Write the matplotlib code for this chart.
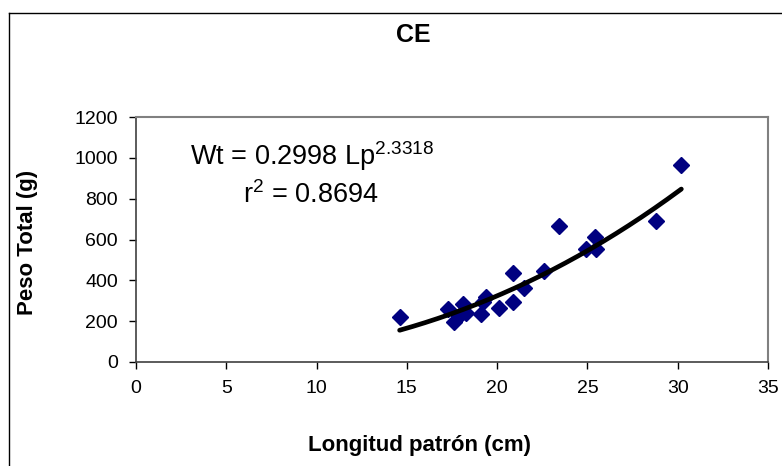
import matplotlib
matplotlib.use("Agg")
import matplotlib.pyplot as plt
import numpy as np
from matplotlib.lines import Line2D

plt.rcParams['font.family'] = ['Liberation Sans', 'DejaVu Sans']
plt.rcParams['mathtext.fontset'] = 'custom'
plt.rcParams['mathtext.rm'] = 'Liberation Sans'
plt.rcParams['mathtext.it'] = 'Liberation Sans'

# Data
longitud = [14.6, 17.3, 17.6, 18.1, 18.3, 17.9, 19.1, 19.4, 19.2, 20.1,
            20.9, 20.9, 21.5, 22.6, 23.4, 24.9, 25.4, 25.5, 28.8, 30.2]
peso = [222, 258, 198, 283, 238, 225, 235, 320, 292, 263,
        295, 434, 364, 446, 665, 553, 612, 552, 690, 964]
coef_a = 0.2998
coef_b = 2.3318
r2 = 0.8694
x_ticks = [0, 5, 10, 15, 20, 25, 30, 35]
y_ticks = [0, 200, 400, 600, 800, 1000, 1200]

W, H = 782, 466
fig = plt.figure(figsize=(W / 100, H / 100), dpi=100)
ax = fig.add_axes([136 / W, 1 - 362 / H, (768 - 136) / W, (362 - 117) / H])

ax.plot(longitud, peso, linestyle='none', marker='D', markersize=7.8,
        color='#000080', markeredgecolor='#000080', zorder=3)
xf = np.linspace(min(longitud), max(longitud), 200)
ax.plot(xf, coef_a * xf ** coef_b, color='black', linewidth=3.4,
        solid_capstyle='round', zorder=4)

ax.set_xlim(0, 35)
ax.set_ylim(0, 1200)
ax.set_xticks(x_ticks)
ax.set_yticks(y_ticks)
ax.tick_params(axis='both', direction='out', length=5, width=1,
               labelsize=14, colors='black', pad=8)
for s in ['top', 'right']:
    ax.spines[s].set_color('#808080')
    ax.spines[s].set_linewidth(1.5)
for s in ['left', 'bottom']:
    ax.spines[s].set_color('#404040')
    ax.spines[s].set_linewidth(1.2)

ax.text(0.278, 0.84, r'Wt = %.4f Lp$^{%.4f}$' % (coef_a, coef_b),
        transform=ax.transAxes, ha='center', va='center', fontsize=19.5)
ax.text(0.277, 0.683, r'r$^{2}$ = %.4f' % r2,
        transform=ax.transAxes, ha='center', va='center', fontsize=19.5)

fig.text(413 / W, 1 - 35 / H, 'CE', ha='center', va='center',
         fontsize=18, fontweight='bold')
fig.text(420 / W, 1 - 446 / H, 'Longitud patrón (cm)', ha='center',
         va='center', fontsize=16, fontweight='bold')
fig.text(28 / W, 1 - 242 / H, 'Peso Total (g)', ha='center', va='center',
         rotation=90, fontsize=16, fontweight='bold')

# outer chart border
fig.add_artist(Line2D([8.5 / W, 8.5 / W], [1 - 13 / H, -0.1],
                      transform=fig.transFigure, color='black', lw=1))
fig.add_artist(Line2D([8.5 / W, 1.1], [1 - 13 / H, 1 - 13 / H],
                      transform=fig.transFigure, color='black', lw=1))

fig.savefig('out.png', dpi=100)
